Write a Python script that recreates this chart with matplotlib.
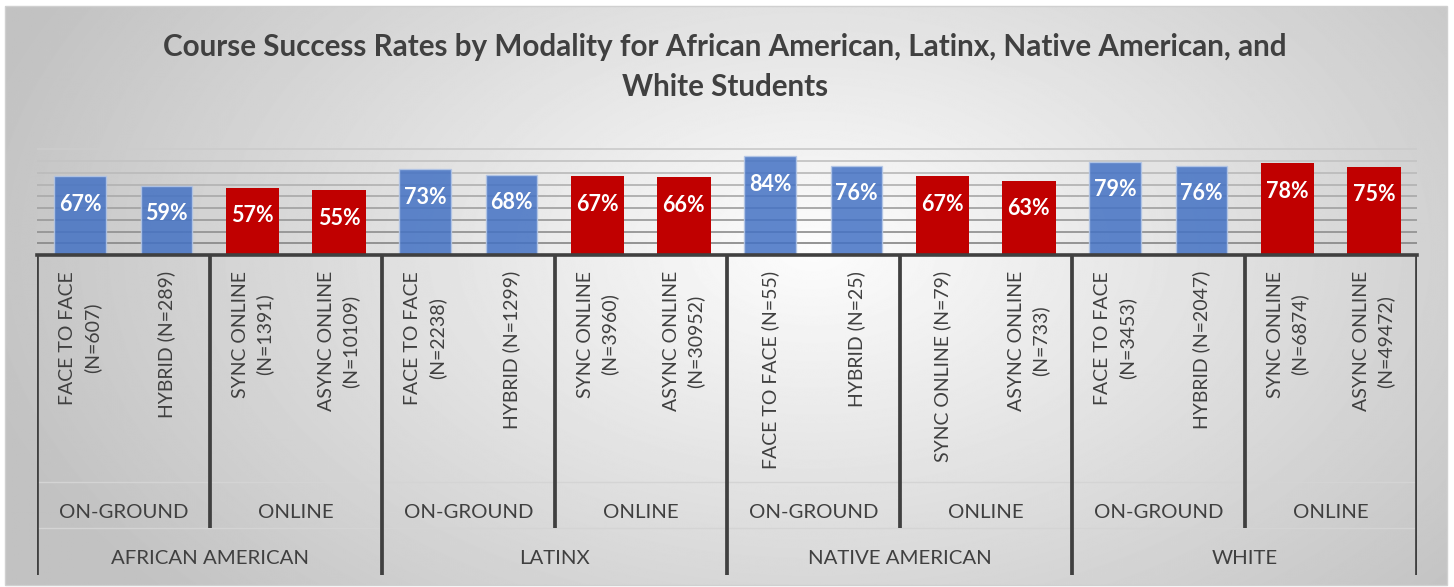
import numpy as np
import matplotlib.pyplot as plt

plt.rcParams['font.family'] = ['Lato', 'DejaVu Sans']

# data
groups = ["AFRICAN AMERICAN", "LATINX", "NATIVE AMERICAN", "WHITE"]
modes = ["ON-GROUND", "ONLINE"]
labels = [
    "FACE TO FACE\n(N=607)", "HYBRID (N=289)", "SYNC ONLINE\n(N=1391)", "ASYNC ONLINE\n(N=10109)",
    "FACE TO FACE\n(N=2238)", "HYBRID (N=1299)", "SYNC ONLINE\n(N=3960)", "ASYNC ONLINE\n(N=30952)",
    "FACE TO FACE (N=55)", "HYBRID (N=25)", "SYNC ONLINE (N=79)", "ASYNC ONLINE\n(N=733)",
    "FACE TO FACE\n(N=3453)", "HYBRID (N=2047)", "SYNC ONLINE\n(N=6874)", "ASYNC ONLINE\n(N=49472)",
]
rates = [0.67, 0.59, 0.57, 0.55,
         0.73, 0.68, 0.67, 0.66,
         0.84, 0.76, 0.67, 0.63,
         0.79, 0.76, 0.78, 0.75]
mode_of_bar = ["ON-GROUND", "ON-GROUND", "ONLINE", "ONLINE"] * 4

W, H = 1454, 587
fig = plt.figure(figsize=(W / 100, H / 100), dpi=100)
fig.patch.set_facecolor("white")

# background gradient panel
bg = fig.add_axes([0, 0, 1, 1], zorder=-10)
bg.set_xlim(0, W)
bg.set_ylim(H, 0)
bg.axis("off")
yy, xx = np.mgrid[0:H, 0:W]
r = np.sqrt(((xx - 0.56 * W) / (0.62 * W)) ** 2 + ((yy - 0.42 * H) / (0.95 * H)) ** 2)
shade = np.clip(0.99 - 0.24 * r, 0.76, 1.0)
bg.imshow(shade, cmap="gray", vmin=0, vmax=1, extent=(5, 1447, 585, 6), aspect="auto",
          interpolation="bilinear")
bg.add_patch(plt.Rectangle((5, 6), 1442, 579, fill=False, ec="#d0d0d0", lw=1))

# main axes
x0, x1 = 37, 1417
y_base = 255
ppu = (255 - 149.3) / 0.9
ytop = 0.92
ax = fig.add_axes([x0 / W, (H - y_base) / H, (x1 - x0) / W, ppu * ytop / H])
ax.set_facecolor("none")
x = np.arange(len(rates))
colors = ["#4472C4" if m == "ON-GROUND" else "#C00000" for m in mode_of_bar]
for xi, v, c in zip(x, rates, colors):
    if c == "#4472C4":
        ax.bar(xi, v, width=0.6, color=c, alpha=0.85, edgecolor="#b4c7e7", linewidth=1, zorder=2)
    else:
        ax.bar(xi, v, width=0.62, color=c, zorder=2)
    ax.annotate(f"{v:.0%}", xy=(xi, v), xytext=(0, -20), textcoords="offset points",
                ha="center", va="center", color="white", fontsize=15.5, fontweight="bold", zorder=3)

ax.set_xlim(-0.5, len(rates) - 0.5)
ax.set_ylim(0, ytop)
ax.set_yticks(np.arange(0.1, 0.91, 0.1))
ax.yaxis.grid(True, lw=1.3)
ax.set_axisbelow(True)
grid_cols = np.linspace(0.55, 0.80, 9)
for gl, g in zip(ax.get_ygridlines(), grid_cols):
    gl.set_color(str(g))
ax.tick_params(left=False, bottom=False, labelleft=False, labelbottom=False)
for s in ["top", "left", "right"]:
    ax.spines[s].set_visible(False)
ax.spines["bottom"].set_color("#404040")
ax.spines["bottom"].set_linewidth(2.6)

# multi-level category axis
depth = 320
ax2 = fig.add_axes([x0 / W, (H - y_base - depth) / H, (x1 - x0) / W, depth / H], sharex=ax)
ax2.set_ylim(depth, 0)
ax2.axis("off")
ax2.hlines([227, 273], -0.5, len(rates) - 0.5, color="#d4d4d4", lw=1)
ax2.vlines(np.arange(-0.5, len(rates), 4), 0, depth, color="#404040", lw=2.7)
ax2.vlines(np.arange(1.5, len(rates), 4), 0, 273, color="#404040", lw=2.7)
txt = "#404040"
for xi, lab in zip(x, labels):
    ax2.text(xi, 16, lab, rotation=90, ha="center", va="top", multialignment="center",
             fontsize=14, color=txt, linespacing=1.45)
for i, m in enumerate(modes * len(groups)):
    ax2.text(2 * i + 0.5, 258, m, ha="center", va="center", fontsize=14.7, color=txt)
for i, g in enumerate(groups):
    ax2.text(4 * i + 1.5, 304, g, ha="center", va="center", fontsize=14.7, color=txt)

fig.text(725 / W, 1 - 67 / H,
         "Course Success Rates by Modality for African American, Latinx, Native American, and\nWhite Students",
         ha="center", va="center", fontsize=21.3, fontweight="bold", color="#404040", linespacing=1.5)

fig.savefig("out.png", dpi=100)
